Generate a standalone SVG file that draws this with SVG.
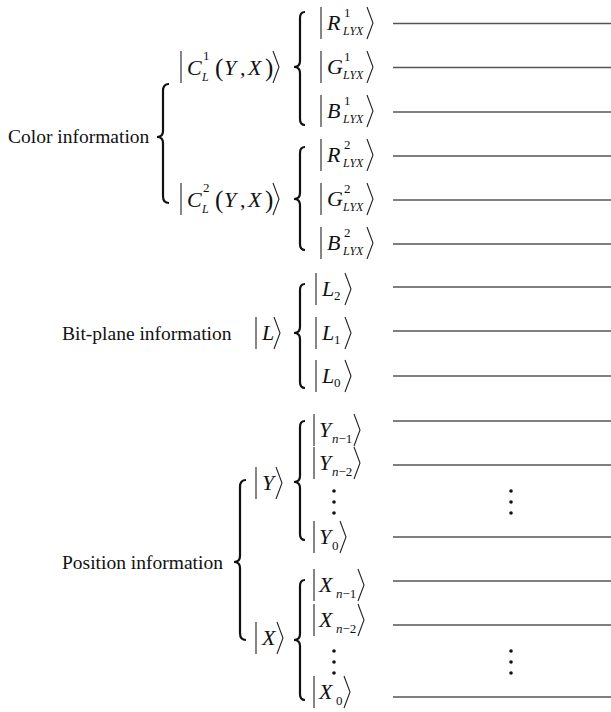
<svg xmlns="http://www.w3.org/2000/svg" width="611" height="712" viewBox="0 0 611 712">
<style>
.lbl{font-family:'Liberation Serif','DejaVu Serif',serif;font-size:19.5px;fill:#111}
.m{font-family:'Liberation Serif','DejaVu Serif',serif;font-size:22px;font-style:italic;fill:#111}
.up{font-style:normal}
.sup{font-family:'Liberation Serif','DejaVu Serif',serif;font-size:13px;fill:#111}
.sub{font-family:'Liberation Serif','DejaVu Serif',serif;font-size:12px;font-style:italic;fill:#111}
.subn{font-family:'Liberation Serif','DejaVu Serif',serif;font-size:13px;fill:#111}
.par{font-family:'Liberation Serif','DejaVu Serif',serif;font-size:25px;fill:#111}
.bar{stroke:#222;stroke-width:1.1;fill:none}
.ang{stroke:#222;stroke-width:1.1;fill:none}
.brace{stroke:#111;stroke-width:2.2;fill:none}
.wire{stroke:#555;stroke-width:1.5}
.dot{fill:#111}
</style>
<defs>
<g id="k"><line class="bar" x1="0" y1="-16" x2="0" y2="16"/></g>
<polyline id="a" class="ang" points="-6,-16 0,0 -6,16"/>
</defs>

<g id="connectors">
<line class="wire" x1="393" y1="23.5" x2="611" y2="23.5"/>
<line class="wire" x1="393" y1="67.5" x2="611" y2="67.5"/>
<line class="wire" x1="393" y1="112" x2="611" y2="112"/>
<line class="wire" x1="393" y1="156" x2="611" y2="156"/>
<line class="wire" x1="393" y1="200" x2="611" y2="200"/>
<line class="wire" x1="393" y1="244" x2="611" y2="244"/>
<line class="wire" x1="393" y1="287" x2="611" y2="287"/>
<line class="wire" x1="393" y1="331" x2="611" y2="331"/>
<line class="wire" x1="393" y1="376" x2="611" y2="376"/>
<line class="wire" x1="393" y1="421" x2="611" y2="421"/>
<line class="wire" x1="393" y1="465" x2="611" y2="465"/>
<line class="wire" x1="393" y1="537" x2="611" y2="537"/>
<line class="wire" x1="393" y1="581" x2="611" y2="581"/>
<line class="wire" x1="393" y1="625" x2="611" y2="625"/>
<line class="wire" x1="393" y1="697" x2="611" y2="697"/>
<circle class="dot" cx="511" cy="491" r="1.8"/>
<circle class="dot" cx="511" cy="502" r="1.8"/>
<circle class="dot" cx="511" cy="513" r="1.8"/>
<circle class="dot" cx="511" cy="651" r="1.8"/>
<circle class="dot" cx="511" cy="662" r="1.8"/>
<circle class="dot" cx="511" cy="673" r="1.8"/>
</g>

<g id="color-info">
<text class="lbl" x="8" y="143">Color information</text>
<path class="brace" d="M169,84 Q163,84 163,91 L163,131 Q163,137 157,137 Q163,137 163,143 L163,196 Q163,203 169,203"/>
</g>

<g id="c1">
<use href="#k" x="181" y="67"/>
<text class="m" x="187" y="75">C</text>
<text class="sup" x="203" y="60">1</text>
<text class="sub" x="202" y="81">L</text>
<text class="par" x="215" y="76">(</text>
<text class="m" x="224" y="75">Y</text>
<text class="m up" x="240" y="75">,</text>
<text class="m" x="248" y="75">X</text>
<text class="par" x="265" y="76">)</text>
<use href="#a" x="279" y="67"/>
<path class="brace" d="M305,12 Q300,12 300,18 L300,61 Q300,67 294,67 Q300,67 300,73 L300,119 Q300,125 305,125"/>
</g>

<g id="r1"><use href="#k" x="321" y="23"/><text class="m" x="327" y="30">R</text><text class="sup" x="344" y="17">1</text><text class="sub" x="343" y="35">LYX</text><use href="#a" x="373" y="23"/></g>
<g id="g1"><use href="#k" x="321" y="67"/><text class="m" x="327" y="74">G</text><text class="sup" x="344" y="61">1</text><text class="sub" x="343" y="79">LYX</text><use href="#a" x="373" y="67"/></g>
<g id="b1"><use href="#k" x="321" y="111"/><text class="m" x="327" y="118">B</text><text class="sup" x="344" y="105">1</text><text class="sub" x="343" y="123">LYX</text><use href="#a" x="373" y="111"/></g>

<g id="c2">
<use href="#k" x="181" y="199"/>
<text class="m" x="187" y="207">C</text>
<text class="sup" x="203" y="192">2</text>
<text class="sub" x="202" y="213">L</text>
<text class="par" x="215" y="208">(</text>
<text class="m" x="224" y="207">Y</text>
<text class="m up" x="240" y="207">,</text>
<text class="m" x="248" y="207">X</text>
<text class="par" x="265" y="208">)</text>
<use href="#a" x="279" y="199"/>
<path class="brace" d="M305,147 Q300,147 300,153 L300,193 Q300,199 294,199 Q300,199 300,205 L300,244 Q300,250 305,250"/>
</g>

<g id="r2"><use href="#k" x="321" y="155"/><text class="m" x="327" y="162">R</text><text class="sup" x="344" y="149">2</text><text class="sub" x="343" y="167">LYX</text><use href="#a" x="373" y="155"/></g>
<g id="g2"><use href="#k" x="321" y="199"/><text class="m" x="327" y="206">G</text><text class="sup" x="344" y="193">2</text><text class="sub" x="343" y="211">LYX</text><use href="#a" x="373" y="199"/></g>
<g id="b2"><use href="#k" x="321" y="243"/><text class="m" x="327" y="250">B</text><text class="sup" x="344" y="237">2</text><text class="sub" x="343" y="255">LYX</text><use href="#a" x="373" y="243"/></g>

<g id="bitplane-info">
<text class="lbl" x="62" y="340">Bit-plane information</text>
</g>
<g id="l">
<use href="#k" x="256" y="333"/><text class="m" x="262" y="340">L</text><use href="#a" x="280" y="333"/>
<path class="brace" d="M305,284 Q300,284 300,290 L300,327 Q300,333 294,333 Q300,333 300,339 L300,382 Q300,388 305,388"/>
</g>
<g id="l2"><use href="#k" x="316" y="289"/><text class="m" x="322" y="296">L</text><text class="subn" x="334" y="300">2</text><use href="#a" x="351" y="289"/></g>
<g id="l1"><use href="#k" x="316" y="333"/><text class="m" x="322" y="340">L</text><text class="subn" x="334" y="344">1</text><use href="#a" x="351" y="333"/></g>
<g id="l0"><use href="#k" x="316" y="376"/><text class="m" x="322" y="383">L</text><text class="subn" x="334" y="387">0</text><use href="#a" x="351" y="376"/></g>

<g id="position-info">
<text class="lbl" x="62" y="569">Position information</text>
<path class="brace" d="M246,480 Q240,480 240,487 L240,556 Q240,562 234,562 Q240,562 240,568 L240,633 Q240,640 246,640"/>
</g>
<g id="y">
<use href="#k" x="256" y="483"/><text class="m" x="262" y="490">Y</text><use href="#a" x="282" y="483"/>
<path class="brace" d="M305,421 Q300,421 300,427 L300,476 Q300,482 294,482 Q300,482 300,488 L300,534 Q300,540 305,540"/>
</g>
<g id="yn1"><use href="#k" x="314" y="430"/><text class="m" x="319" y="437">Y</text><text class="subn" x="332" y="443"><tspan font-style="italic">n</tspan>−1</text><use href="#a" x="360" y="430"/></g>
<g id="yn2"><use href="#k" x="314" y="463"/><text class="m" x="319" y="470">Y</text><text class="subn" x="332" y="476"><tspan font-style="italic">n</tspan>−2</text><use href="#a" x="360" y="463"/></g>
<g id="ydots"><circle class="dot" cx="334" cy="491" r="1.8"/><circle class="dot" cx="334" cy="502" r="1.8"/><circle class="dot" cx="334" cy="513" r="1.8"/></g>
<g id="y0"><use href="#k" x="314" y="537"/><text class="m" x="319" y="544">Y</text><text class="subn" x="332" y="550">0</text><use href="#a" x="346" y="537"/></g>

<g id="x">
<use href="#k" x="256" y="638"/><text class="m" x="262" y="645">X</text><use href="#a" x="283" y="638"/>
<path class="brace" d="M305,580 Q300,580 300,586 L300,634 Q300,640 294,640 Q300,640 300,646 L300,694 Q300,700 305,700"/>
</g>
<g id="xn1"><use href="#k" x="314" y="585"/><text class="m" x="319" y="592">X</text><text class="subn" x="336" y="598"><tspan font-style="italic">n</tspan>−1</text><use href="#a" x="364" y="585"/></g>
<g id="xn2"><use href="#k" x="314" y="620"/><text class="m" x="319" y="627">X</text><text class="subn" x="336" y="633"><tspan font-style="italic">n</tspan>−2</text><use href="#a" x="364" y="620"/></g>
<g id="xdots"><circle class="dot" cx="334" cy="651" r="1.8"/><circle class="dot" cx="334" cy="662" r="1.8"/><circle class="dot" cx="334" cy="673" r="1.8"/></g>
<g id="x0"><use href="#k" x="314" y="692"/><text class="m" x="319" y="699">X</text><text class="subn" x="336" y="705">0</text><use href="#a" x="350" y="692"/></g>
</svg>
